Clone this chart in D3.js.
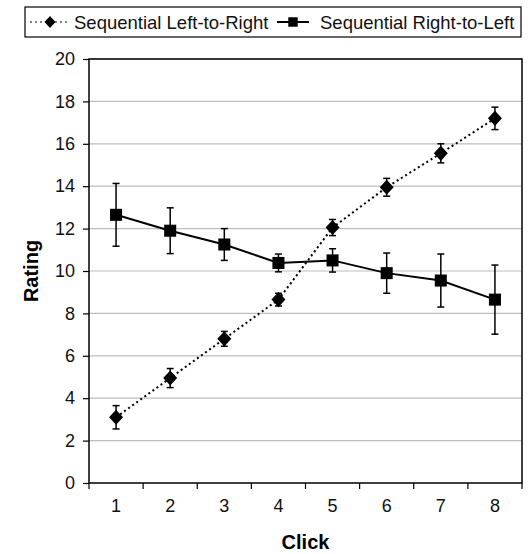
<!DOCTYPE html>
<html>
<head>
<meta charset="utf-8">
<script src="https://cdn.jsdelivr.net/npm/d3@7"></script>
<style>
  body { margin: 0; background: #fff; }
  svg { font-family: "Liberation Sans", Arial, Helvetica, sans-serif; }
</style>
</head>
<body>
<svg id="chart" width="530" height="554"></svg>
<script>
"use strict";

// clicks along the x axis
let clicks = [1, 2, 3, 4, 5, 6, 7, 8];
let yTicks = [0, 2, 4, 6, 8, 10, 12, 14, 16, 18, 20];

// mean rating and error per click
let leftToRight = [3.1, 4.95, 6.8, 8.65, 12.05, 13.95, 15.55, 17.2];
let leftToRightErr = [0.55, 0.45, 0.35, 0.3, 0.38, 0.42, 0.45, 0.53];
let rightToLeft = [12.65, 11.9, 11.25, 10.38, 10.5, 9.9, 9.55, 8.65];
let rightToLeftErr = [1.48, 1.08, 0.75, 0.42, 0.55, 0.95, 1.25, 1.63];

let series = [
  { label: "Sequential Left-to-Right", values: leftToRight, err: leftToRightErr, dash: "2,3", marker: "diamond" },
  { label: "Sequential Right-to-Left", values: rightToLeft, err: rightToLeftErr, dash: null, marker: "square" }
];

let svg = d3.select("#chart");
let plotLeft = 89, plotRight = 522, plotTop = 59, plotBottom = 483;

let x = d3.scaleBand().domain(clicks).range([plotLeft, plotRight]);
let y = d3.scaleLinear().domain([0, 20]).range([plotBottom, plotTop]);

// grid lines
svg.append("g").selectAll("line").data(yTicks.slice(1)).enter().append("line")
  .attr("x1", plotLeft).attr("x2", plotRight)
  .attr("y1", d => y(d)).attr("y2", d => y(d))
  .style("stroke", "#bdbdbd").style("stroke-width", 1.2);

// plot box
svg.append("rect").attr("x", plotLeft).attr("y", plotTop)
  .attr("width", plotRight - plotLeft).attr("height", plotBottom - plotTop)
  .style("fill", "none").style("stroke", "#000").style("stroke-width", 1.5);

// y axis
let yAxis = svg.append("g").attr("transform", `translate(${plotLeft},0)`)
  .call(d3.axisLeft(y).tickValues(yTicks).tickSize(6).tickPadding(8));
yAxis.select(".domain").remove();
yAxis.attr("font-size", 18).attr("font-family", "'Liberation Sans', Arial, sans-serif");
yAxis.selectAll("text").style("fill", "#111");
yAxis.selectAll("line").style("stroke", "#000").style("stroke-width", 1.2);

// x axis: ticks on category boundaries
let xAxis = svg.append("g").attr("transform", `translate(0,${plotBottom})`)
  .call(d3.axisBottom(x).tickSize(0).tickPadding(16));
xAxis.select(".domain").remove();
xAxis.attr("font-size", 18).attr("font-family", "'Liberation Sans', Arial, sans-serif");
xAxis.selectAll("text").style("fill", "#111");
let bounds = clicks.map(c => x(c)).concat([plotRight]);
svg.append("g").selectAll("line").data(bounds).enter().append("line")
  .attr("x1", d => d).attr("x2", d => d)
  .attr("y1", plotBottom).attr("y2", plotBottom + 6)
  .style("stroke", "#000").style("stroke-width", 1.2);

// axis titles
svg.append("text").text("Click")
  .attr("x", (plotLeft + plotRight) / 2).attr("y", 549)
  .attr("text-anchor", "middle")
  .style("font-size", "20px").style("font-weight", "bold");
svg.append("text").text("Rating")
  .attr("transform", `translate(38,${(plotTop + plotBottom) / 2}) rotate(-90)`)
  .attr("text-anchor", "middle")
  .style("font-size", "20px").style("font-weight", "bold");

let cx = c => x(c) + x.bandwidth() / 2;

function drawMarker(g, kind, px, py, r) {
  if (kind === "diamond") {
    g.append("path")
      .attr("d", `M${px},${py - r * 1.08}L${px + r},${py}L${px},${py + r * 1.08}L${px - r},${py}Z`)
      .style("fill", "#000");
  } else {
    let h = r * 0.86;
    g.append("rect").attr("x", px - h).attr("y", py - h)
      .attr("width", 2 * h).attr("height", 2 * h).style("fill", "#000");
  }
}

series.forEach(s => {
  let g = svg.append("g");
  let line = d3.line().x((d, i) => cx(clicks[i])).y(d => y(d));
  g.append("path").datum(s.values).attr("d", line)
    .style("fill", "none").style("stroke", "#000").style("stroke-width", 2)
    .style("stroke-dasharray", s.dash);

  // error bars
  s.values.forEach((v, i) => {
    let px = cx(clicks[i]);
    let y1 = y(v + s.err[i]), y2 = y(v - s.err[i]);
    g.append("line").attr("x1", px).attr("x2", px).attr("y1", y1).attr("y2", y2)
      .style("stroke", "#000").style("stroke-width", 1.5);
    [y1, y2].forEach(yy => {
      g.append("line").attr("x1", px - 3.5).attr("x2", px + 3.5).attr("y1", yy).attr("y2", yy)
        .style("stroke", "#000").style("stroke-width", 1.5);
    });
  });

  s.values.forEach((v, i) => drawMarker(g, s.marker, cx(clicks[i]), y(v), 7));
});

// legend
let legend = svg.append("g");
legend.append("rect").attr("x", 25).attr("y", 7).attr("width", 496).attr("height", 30)
  .style("fill", "#fff").style("stroke", "#000").style("stroke-width", 1.2);
let legendPos = [{ l1: 30, l2: 70, m: 50, t: 74 }, { l1: 277, l2: 309, m: 293, t: 320 }];
series.forEach((s, i) => {
  let p = legendPos[i];
  legend.append("line").attr("x1", p.l1).attr("x2", p.l2).attr("y1", 22).attr("y2", 22)
    .style("stroke", "#000").style("stroke-width", s.dash ? 1.2 : 2)
    .style("stroke-dasharray", s.dash);
  drawMarker(legend, s.marker, p.m, 22, 5.5);
  legend.append("text").text(s.label).attr("x", p.t).attr("y", 29)
    .style("font-size", "18.5px").style("fill", "#111");
});
</script>
</body>
</html>
